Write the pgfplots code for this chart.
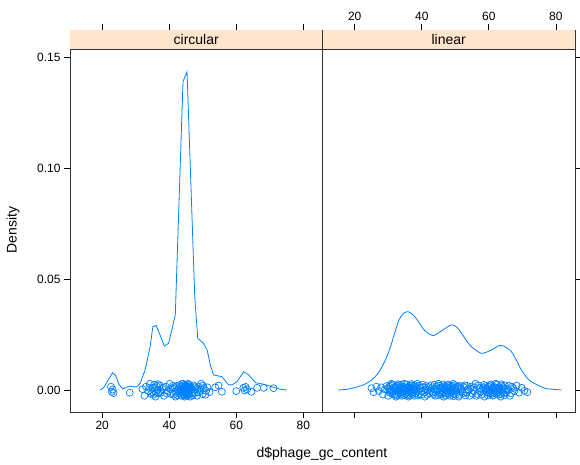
\documentclass[border=0pt]{standalone}
\usepackage{pgfplots}
\pgfplotsset{compat=1.18}
\usepackage{pgfplotstable}
\usepackage{fontspec}
\setmainfont{Liberation Sans}

\definecolor{latblue}{HTML}{0080FF}
\definecolor{stripbg}{HTML}{FFE5CC}

% density curves
\pgfplotstableread{
x y
19.4 0
20.5 0.0012
21.8 0.0045
23.1 0.0078
24.0 0.0065
25.0 0.0025
26.1 0.0005
27.2 0.0012
28.4 0.0018
29.5 0.0014
30.4 0.0015
31.3 0.0030
32.8 0.0090
34.3 0.0195
35.1 0.0285
36.1 0.0291
37.2 0.0250
38.5 0.0198
39.8 0.0210
41.8 0.0338
44.1 0.1389
45.3 0.1434
47.6 0.0420
48.5 0.0233
50.2 0.0210
51.3 0.0180
52.3 0.0110
53.2 0.0068
55.7 0.0060
57.7 0.0023
58.7 0.0023
60.2 0.0037
61.2 0.0060
62.2 0.0083
63.7 0.0068
65.7 0.0033
68.2 0.0026
71.1 0.0012
73.0 0.0004
75.0 0
}\circdens

\pgfplotstableread{
x y
15.1 0
18.5 0.0005
22.6 0.0023
25.5 0.0050
27.6 0.0090
29.3 0.0140
30.7 0.0195
32.0 0.0260
33.2 0.0315
34.5 0.0345
35.9 0.0353
37.3 0.0340
38.7 0.0315
40.0 0.0285
41.2 0.0263
43.5 0.0245
46.2 0.0270
48.7 0.0293
50.0 0.0288
51.2 0.0270
53.0 0.0230
54.8 0.0195
57.8 0.0165
60.7 0.0180
63.1 0.0200
64.5 0.0198
66.7 0.0173
68.2 0.0135
69.7 0.0090
71.2 0.0058
72.7 0.0037
76.7 0.0008
81.7 0
}\lindens

% jittered raw values
\pgfplotstableread{
x y
22.6 0.0015
22.9 -0.0008
23.1 0.0002
23.4 -0.0014
28.2 -0.0012
32.0 0.0004
32.6 -0.0026
33.1 0.0015
33.8 -0.0005
34.0 0.0010
34.2 0.0028
34.6 -0.0018
34.9 -0.0009
35.0 0.0009
35.3 -0.0021
35.5 0.0024
35.6 0.0012
35.9 -0.0030
36.0 -0.0012
36.2 0.0018
36.5 0.0001
36.6 0.0026
36.8 -0.0015
37.1 0.0021
37.3 -0.0004
37.5 -0.0012
37.9 0.0004
38.1 0.0011
38.4 -0.0026
39.0 0.0015
39.3 -0.0016
39.6 -0.0005
40.1 0.0028
40.3 0.0004
40.5 -0.0018
40.9 0.0009
41.1 0.0019
41.3 -0.0021
41.6 0.0012
41.8 -0.0008
41.9 -0.0030
42.2 0.0018
42.4 -0.0024
42.5 0.0001
42.8 -0.0015
42.9 0.0009
43.0 0.0021
43.2 -0.0012
43.3 -0.0002
43.4 0.0004
43.6 -0.0026
43.7 0.0027
43.8 0.0015
43.9 -0.0011
44.0 -0.0005
44.1 0.0028
44.15 0.0006
44.2 -0.0018
44.3 0.0009
44.35 -0.0024
44.4 -0.0021
44.5 0.0012
44.55 0.0023
44.6 -0.0030
44.7 0.0018
44.75 -0.0008
44.8 0.0001
44.9 -0.0015
44.95 0.0010
45.0 0.0021
45.05 -0.0020
45.1 -0.0012
45.2 0.0004
45.25 0.0016
45.3 -0.0026
45.4 0.0015
45.45 -0.0013
45.5 -0.0005
45.6 0.0028
45.65 0.0004
45.7 -0.0018
45.8 0.0009
45.85 0.0025
45.9 -0.0021
46.0 0.0012
46.1 -0.0008
46.2 -0.0030
46.4 0.0018
46.5 0.0010
46.6 0.0001
46.9 -0.0015
47.0 -0.0024
47.2 0.0021
47.5 -0.0012
47.7 0.0013
47.9 0.0004
48.3 -0.0026
48.5 -0.0010
48.7 0.0015
49.1 -0.0005
49.3 0.0006
49.5 0.0028
49.9 -0.0018
50.0 0.0020
50.3 0.0009
50.8 -0.0021
51.0 -0.0004
51.4 0.0012
52.0 -0.0010
53.7 0.0012
54.7 0.0020
55.7 -0.0008
60.0 -0.0005
62.1 0.0010
62.5 -0.0002
62.8 0.0014
63.2 0.0003
64.5 -0.0008
66.2 0.0010
68.2 0.0010
71.1 0.0008
}\circpts

\pgfplotstableread{
x y
25.0 0.0008
25.6 -0.0010
26.5 0.0015
27.2 -0.0004
27.9 0.0012
28.4 -0.0020
29.0 0.0003
29.5 0.0018
30.0 -0.0026
30.1 0.0006
30.3 0.0015
30.45 -0.0012
30.6 -0.0005
30.75 0.0020
30.9 0.0028
31.05 -0.0003
31.2 -0.0018
31.35 0.0024
31.5 0.0009
31.65 -0.0008
31.8 -0.0021
31.9 0.0005
32.0 0.0012
32.15 -0.0019
32.3 -0.0030
32.45 0.0010
32.6 0.0018
32.7 -0.0024
32.8 0.0001
32.95 0.0026
33.1 -0.0015
33.2 -0.0002
33.3 0.0021
33.45 0.0011
33.6 -0.0012
33.7 -0.0020
33.8 0.0004
33.9 0.0024
34.0 -0.0026
34.15 -0.0009
34.3 0.0015
34.4 0.0006
34.5 -0.0005
34.65 -0.0023
34.8 0.0028
34.9 0.0013
35.0 -0.0018
35.15 -0.0001
35.3 0.0009
35.4 0.0025
35.5 -0.0021
35.65 -0.0010
35.8 0.0012
35.9 0.0003
36.0 -0.0030
36.15 -0.0024
36.3 0.0018
36.4 0.0010
36.5 0.0001
36.65 -0.0006
36.8 -0.0015
36.9 0.0027
37.0 0.0021
37.15 -0.0020
37.3 -0.0012
37.4 0.0012
37.5 0.0004
37.65 -0.0003
37.8 -0.0026
37.95 0.0022
38.1 0.0015
38.25 -0.0014
38.4 -0.0005
38.55 0.0007
38.7 0.0028
38.9 -0.0025
39.1 -0.0018
39.3 0.0019
39.5 0.0009
39.8 -0.0006
40.0 -0.0021
40.2 0.0025
40.4 0.0012
40.7 -0.0011
40.9 -0.0030
41.1 0.0004
41.3 0.0018
41.6 -0.0022
41.8 0.0001
42.0 0.0013
42.2 -0.0015
42.5 -0.0004
42.7 0.0021
42.9 0.0008
43.1 -0.0012
43.4 -0.0019
43.6 0.0004
43.8 0.0024
44.0 -0.0026
44.15 -0.0010
44.3 0.0015
44.5 0.0007
44.7 -0.0005
44.85 -0.0024
45.0 0.0028
45.15 0.0019
45.3 -0.0018
45.45 -0.0001
45.6 0.0009
45.75 0.0011
45.9 -0.0021
46.05 -0.0016
46.2 0.0012
46.35 0.0025
46.5 -0.0030
46.65 -0.0009
46.8 0.0018
46.9 0.0005
47.0 0.0001
47.15 -0.0025
47.3 -0.0015
47.45 0.0013
47.6 0.0021
47.75 -0.0003
47.9 -0.0012
48.0 0.0024
48.1 0.0004
48.25 -0.0017
48.4 -0.0026
48.55 0.0008
48.7 0.0015
48.85 -0.0012
49.0 -0.0005
49.15 0.0019
49.3 0.0028
49.45 -0.0028
49.6 -0.0018
49.75 0.0002
49.9 0.0009
50.05 0.0022
50.2 -0.0021
50.4 -0.0010
50.6 0.0012
50.8 0.0016
51.0 -0.0030
51.2 -0.0022
51.4 0.0018
51.6 0.0007
51.8 0.0001
52.0 -0.0008
52.3 -0.0015
52.5 0.0013
52.8 0.0021
53.0 -0.0025
53.3 -0.0012
53.5 0.0019
53.8 0.0004
54.0 -0.0003
54.3 -0.0026
54.5 0.0007
54.8 0.0015
55.1 -0.0016
55.4 -0.0005
55.7 0.0012
56.0 0.0028
56.3 -0.0026
56.6 -0.0018
56.9 0.0021
57.2 0.0009
57.5 -0.0008
57.8 -0.0021
58.0 0.0004
58.3 0.0012
58.5 0.0023
58.7 -0.0030
58.9 -0.0011
59.1 0.0018
59.3 0.0008
59.5 0.0001
59.7 -0.0024
59.9 -0.0015
60.05 0.0014
60.2 0.0021
60.35 -0.0002
60.5 -0.0012
60.65 0.0025
60.8 0.0004
60.95 -0.0016
61.1 -0.0026
61.25 0.0006
61.4 0.0015
61.55 -0.0022
61.7 -0.0005
61.85 0.0011
62.0 0.0028
62.15 -0.0005
62.3 -0.0018
62.45 0.0024
62.6 0.0009
62.75 -0.0010
62.9 -0.0021
63.05 0.0003
63.2 0.0012
63.35 -0.0019
63.5 -0.0030
63.65 0.0026
63.8 0.0018
63.95 -0.0008
64.1 0.0001
64.25 0.0012
64.4 -0.0015
64.6 -0.0024
64.8 0.0021
65.0 0.0007
65.2 -0.0012
65.45 -0.0003
65.7 0.0004
66.0 0.0019
66.3 -0.0026
66.6 -0.0015
66.9 0.0015
67.3 0.0009
67.6 -0.0005
68.3 0.0020
69.0 -0.0012
69.8 0.0010
70.6 -0.0004
71.5 -0.0010
}\linpts

\pgfplotsset{
  panel/.style={
    scale only axis,
    width=252.5pt, height=382pt,
    anchor=south west,
    xmin=10.4, xmax=85.7,
    ymin=-0.00991, ymax=0.16216,
    xtick={20,40,60,80},
    ytick={0,0.05,0.10,0.15},
    tick align=outside,
    major tick length=6pt,
    xtick pos=both,
    axis line style={black!80, line width=0.7pt},
    every tick/.style={black, line width=0.7pt},
    ticklabel style={font=\fontsize{12}{14}\selectfont},
    /pgf/number format/assume math mode=true,
    yticklabel style={/pgf/number format/.cd, fixed, fixed zerofill, precision=2},
    clip=false,
  },
  dens/.style={latblue, line width=0.8pt, no marks},
  pts/.style={only marks, mark=o, mark size=3.5pt, latblue, mark options={line width=0.7pt}},
}

\begin{document}
\begin{tikzpicture}[x=1pt,y=1pt]
\useasboundingbox (0,0) rectangle (580,464);

% circular
\begin{axis}[panel, at={(70pt,52pt)},
  xticklabel pos=bottom, ytick pos=left]
  \fill[stripbg] (rel axis cs:0,0.9503) rectangle (rel axis cs:1,1);
  \draw[black!80, line width=0.7pt] (rel axis cs:0,0.9503) -- (rel axis cs:1,0.9503);
  \node[font=\fontsize{14}{16}\selectfont] at (rel axis cs:0.5,0.9752) {circular};
  \addplot[dens] table {\circdens};
  \addplot[pts] table {\circpts};
\end{axis}

% linear
\begin{axis}[panel, at={(322.5pt,52pt)},
  xticklabel pos=top, ytick pos=right, yticklabels={}]
  \fill[stripbg] (rel axis cs:0,0.9503) rectangle (rel axis cs:1,1);
  \draw[black!80, line width=0.7pt] (rel axis cs:0,0.9503) -- (rel axis cs:1,0.9503);
  \node[font=\fontsize{14}{16}\selectfont] at (rel axis cs:0.5,0.9752) {linear};
  \addplot[dens, smooth, tension=0.4] table {\lindens};
  \addplot[pts] table {\linpts};
\end{axis}

\node[rotate=90, font=\fontsize{14}{16}\selectfont] at (13,234) {Density};
\node[font=\fontsize{14}{16}\selectfont] at (322,10) {d\$phage\_gc\_content};
\end{tikzpicture}
\end{document}
